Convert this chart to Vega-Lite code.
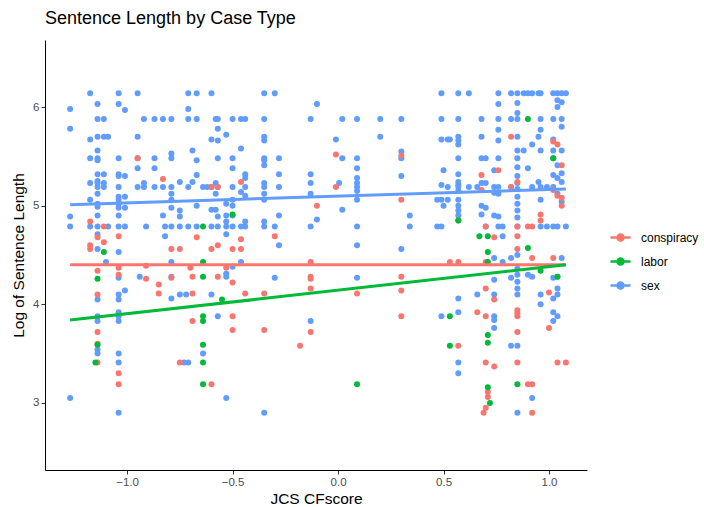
{
"$schema": "https://vega.github.io/schema/vega-lite/v6.json",
"width": 542, "height": 430,
"autosize": {"type": "none"},
"padding": {"left": 45, "top": 40, "right": 117, "bottom": 37},
"background": "white",
"title": {"text": "Sentence Length by Case Type", "anchor": "start", "frame": "group", "font": "Liberation Sans", "fontSize": 18, "fontWeight": "normal", "color": "#000000", "offset": 12},
"config": {"view": {"stroke": null}, "axis": {"grid": false, "domainColor": "#000000", "tickColor": "#333333", "tickSize": 4, "labelFont": "Liberation Sans", "labelFontSize": 11.5, "labelColor": "#4D4D4D", "titleFont": "Liberation Sans", "titleFontSize": 15.5, "titleFontWeight": "normal", "titleColor": "#000000"}},
"datasets": {
"fits": [
{"x": -1.27, "y": 4.40, "type": "conspiracy"}, {"x": 1.08, "y": 4.40, "type": "conspiracy"},
{"x": -1.27, "y": 3.84, "type": "labor"}, {"x": 1.08, "y": 4.40, "type": "labor"},
{"x": -1.27, "y": 5.01, "type": "sex"}, {"x": 1.08, "y": 5.17, "type": "sex"}
],
"pts": [
{"x":-1.27,"y":5.98,"type":"sex"},{"x":-1.27,"y":5.78,"type":"sex"},{"x":-1.27,"y":4.89,"type":"sex"},{"x":-1.27,"y":4.79,"type":"sex"},{"x":-1.27,"y":3.05,"type":"sex"},
{"x":-1.175,"y":6.14,"type":"sex"},{"x":-1.175,"y":5.67,"type":"sex"},{"x":-1.175,"y":5.48,"type":"sex"},{"x":-1.175,"y":5.23,"type":"sex"},{"x":-1.175,"y":5.06,"type":"sex"},{"x":-1.175,"y":4.79,"type":"sex"},
{"x":-1.14,"y":6.03,"type":"sex"},{"x":-1.14,"y":5.88,"type":"sex"},{"x":-1.14,"y":5.70,"type":"sex"},{"x":-1.14,"y":5.56,"type":"sex"},{"x":-1.14,"y":5.48,"type":"sex"},{"x":-1.14,"y":5.46,"type":"sex"},{"x":-1.14,"y":5.32,"type":"sex"},{"x":-1.14,"y":5.25,"type":"sex"},{"x":-1.14,"y":5.23,"type":"sex"},{"x":-1.14,"y":5.19,"type":"sex"},{"x":-1.14,"y":5.12,"type":"sex"},{"x":-1.14,"y":5.02,"type":"sex"},{"x":-1.14,"y":4.99,"type":"sex"},{"x":-1.14,"y":4.90,"type":"sex"},{"x":-1.14,"y":4.79,"type":"sex"},{"x":-1.14,"y":4.71,"type":"sex"},{"x":-1.14,"y":4.56,"type":"sex"},{"x":-1.14,"y":4.05,"type":"sex"},{"x":-1.14,"y":3.88,"type":"sex"},{"x":-1.14,"y":3.83,"type":"sex"},{"x":-1.14,"y":3.54,"type":"sex"},{"x":-1.14,"y":3.50,"type":"sex"},
{"x":-1.11,"y":5.88,"type":"sex"},{"x":-1.11,"y":5.70,"type":"sex"},{"x":-1.11,"y":5.32,"type":"sex"},{"x":-1.11,"y":5.23,"type":"sex"},{"x":-1.11,"y":5.19,"type":"sex"},{"x":-1.10,"y":4.43,"type":"sex"},
{"x":-1.09,"y":5.70,"type":"sex"},{"x":-1.09,"y":4.79,"type":"sex"},
{"x":-1.04,"y":6.14,"type":"sex"},{"x":-1.04,"y":6.03,"type":"sex"},{"x":-1.04,"y":5.48,"type":"sex"},{"x":-1.04,"y":5.32,"type":"sex"},{"x":-1.04,"y":5.30,"type":"sex"},{"x":-1.04,"y":5.19,"type":"sex"},{"x":-1.04,"y":5.09,"type":"sex"},{"x":-1.04,"y":5.06,"type":"sex"},{"x":-1.04,"y":5.02,"type":"sex"},{"x":-1.04,"y":4.98,"type":"sex"},{"x":-1.04,"y":4.90,"type":"sex"},{"x":-1.04,"y":4.79,"type":"sex"},{"x":-1.04,"y":4.53,"type":"sex"},{"x":-1.04,"y":4.27,"type":"sex"},{"x":-1.04,"y":4.10,"type":"sex"},{"x":-1.04,"y":4.05,"type":"sex"},{"x":-1.04,"y":3.92,"type":"sex"},{"x":-1.04,"y":3.88,"type":"sex"},{"x":-1.04,"y":3.83,"type":"sex"},{"x":-1.04,"y":3.50,"type":"sex"},{"x":-1.04,"y":3.41,"type":"sex"},{"x":-1.04,"y":2.90,"type":"sex"},
{"x":-1.01,"y":5.97,"type":"sex"},{"x":-1.01,"y":5.30,"type":"sex"},{"x":-1.01,"y":5.09,"type":"sex"},{"x":-1.01,"y":4.98,"type":"sex"},{"x":-1.01,"y":4.79,"type":"sex"},{"x":-1.01,"y":4.14,"type":"sex"},
{"x":-0.95,"y":6.14,"type":"sex"},{"x":-0.95,"y":5.70,"type":"sex"},{"x":-0.95,"y":5.48,"type":"sex"},{"x":-0.95,"y":5.38,"type":"sex"},{"x":-0.95,"y":5.19,"type":"sex"},{"x":-0.94,"y":4.28,"type":"sex"},
{"x":-0.92,"y":5.88,"type":"sex"},{"x":-0.92,"y":5.23,"type":"sex"},{"x":-0.92,"y":5.19,"type":"sex"},{"x":-0.91,"y":4.79,"type":"sex"},
{"x":-0.87,"y":5.88,"type":"sex"},{"x":-0.87,"y":5.48,"type":"sex"},{"x":-0.87,"y":5.38,"type":"sex"},{"x":-0.87,"y":5.19,"type":"sex"},
{"x":-0.83,"y":5.88,"type":"sex"},{"x":-0.83,"y":5.19,"type":"sex"},{"x":-0.83,"y":4.90,"type":"sex"},{"x":-0.82,"y":4.79,"type":"sex"},{"x":-0.82,"y":4.69,"type":"sex"},
{"x":-0.79,"y":5.88,"type":"sex"},{"x":-0.79,"y":5.53,"type":"sex"},{"x":-0.79,"y":5.48,"type":"sex"},{"x":-0.79,"y":5.19,"type":"sex"},{"x":-0.79,"y":5.12,"type":"sex"},{"x":-0.79,"y":5.06,"type":"sex"},{"x":-0.79,"y":4.98,"type":"sex"},{"x":-0.79,"y":4.79,"type":"sex"},{"x":-0.79,"y":4.43,"type":"sex"},{"x":-0.79,"y":4.28,"type":"sex"},{"x":-0.79,"y":4.06,"type":"sex"},
{"x":-0.75,"y":5.24,"type":"sex"},{"x":-0.75,"y":4.95,"type":"sex"},{"x":-0.75,"y":4.89,"type":"sex"},{"x":-0.75,"y":4.79,"type":"sex"},{"x":-0.75,"y":4.10,"type":"sex"},{"x":-0.73,"y":3.41,"type":"sex"},
{"x":-0.71,"y":6.14,"type":"sex"},{"x":-0.71,"y":5.98,"type":"sex"},{"x":-0.71,"y":5.88,"type":"sex"},{"x":-0.71,"y":5.19,"type":"sex"},{"x":-0.71,"y":4.79,"type":"sex"},{"x":-0.71,"y":3.41,"type":"sex"},{"x":-0.72,"y":4.10,"type":"sex"},
{"x":-0.69,"y":5.56,"type":"sex"},{"x":-0.69,"y":5.24,"type":"sex"},
{"x":-0.67,"y":6.14,"type":"sex"},{"x":-0.67,"y":5.88,"type":"sex"},{"x":-0.67,"y":5.46,"type":"sex"},{"x":-0.67,"y":5.31,"type":"sex"},{"x":-0.67,"y":5.00,"type":"sex"},{"x":-0.67,"y":4.79,"type":"sex"},
{"x":-0.64,"y":5.19,"type":"sex"},{"x":-0.64,"y":3.50,"type":"sex"},{"x":-0.62,"y":5.19,"type":"sex"},
{"x":-0.60,"y":6.14,"type":"sex"},{"x":-0.60,"y":5.67,"type":"sex"},{"x":-0.60,"y":5.19,"type":"sex"},{"x":-0.60,"y":4.96,"type":"sex"},{"x":-0.60,"y":4.79,"type":"sex"},{"x":-0.60,"y":4.10,"type":"sex"},
{"x":-0.58,"y":5.88,"type":"sex"},{"x":-0.58,"y":5.23,"type":"sex"},{"x":-0.58,"y":5.12,"type":"sex"},{"x":-0.58,"y":4.96,"type":"sex"},
{"x":-0.57,"y":5.88,"type":"sex"},{"x":-0.57,"y":5.78,"type":"sex"},{"x":-0.57,"y":5.66,"type":"sex"},{"x":-0.57,"y":5.48,"type":"sex"},{"x":-0.57,"y":5.19,"type":"sex"},{"x":-0.57,"y":4.89,"type":"sex"},{"x":-0.57,"y":4.79,"type":"sex"},{"x":-0.57,"y":3.88,"type":"sex"},
{"x":-0.53,"y":5.72,"type":"sex"},{"x":-0.53,"y":5.02,"type":"sex"},{"x":-0.53,"y":4.90,"type":"sex"},{"x":-0.53,"y":4.84,"type":"sex"},{"x":-0.53,"y":4.79,"type":"sex"},{"x":-0.53,"y":4.71,"type":"sex"},{"x":-0.53,"y":4.31,"type":"sex"},{"x":-0.53,"y":4.28,"type":"sex"},{"x":-0.53,"y":3.05,"type":"sex"},
{"x":-0.50,"y":5.88,"type":"sex"},{"x":-0.50,"y":5.48,"type":"sex"},{"x":-0.50,"y":5.38,"type":"sex"},{"x":-0.50,"y":5.19,"type":"sex"},{"x":-0.50,"y":5.06,"type":"sex"},{"x":-0.50,"y":5.00,"type":"sex"},{"x":-0.50,"y":4.90,"type":"sex"},{"x":-0.50,"y":4.79,"type":"sex"},{"x":-0.50,"y":4.38,"type":"sex"},
{"x":-0.46,"y":5.88,"type":"sex"},{"x":-0.46,"y":5.58,"type":"sex"},{"x":-0.46,"y":5.14,"type":"sex"},{"x":-0.46,"y":4.79,"type":"sex"},{"x":-0.46,"y":4.43,"type":"sex"},
{"x":-0.44,"y":5.88,"type":"sex"},{"x":-0.44,"y":5.32,"type":"sex"},{"x":-0.44,"y":5.28,"type":"sex"},{"x":-0.44,"y":5.19,"type":"sex"},{"x":-0.44,"y":5.10,"type":"sex"},{"x":-0.44,"y":4.84,"type":"sex"},{"x":-0.44,"y":4.79,"type":"sex"},
{"x":-0.35,"y":6.14,"type":"sex"},{"x":-0.35,"y":5.88,"type":"sex"},{"x":-0.35,"y":5.70,"type":"sex"},{"x":-0.35,"y":5.66,"type":"sex"},{"x":-0.35,"y":5.48,"type":"sex"},{"x":-0.35,"y":5.46,"type":"sex"},{"x":-0.35,"y":5.41,"type":"sex"},{"x":-0.35,"y":5.23,"type":"sex"},{"x":-0.35,"y":5.19,"type":"sex"},{"x":-0.35,"y":5.12,"type":"sex"},{"x":-0.35,"y":5.06,"type":"sex"},{"x":-0.35,"y":4.84,"type":"sex"},{"x":-0.35,"y":4.79,"type":"sex"},{"x":-0.35,"y":2.90,"type":"sex"},
{"x":-0.30,"y":6.14,"type":"sex"},{"x":-0.30,"y":4.79,"type":"sex"},{"x":-0.30,"y":4.27,"type":"sex"},
{"x":-0.28,"y":5.48,"type":"sex"},{"x":-0.28,"y":5.32,"type":"sex"},{"x":-0.28,"y":5.19,"type":"sex"},{"x":-0.28,"y":4.90,"type":"sex"},{"x":-0.28,"y":4.60,"type":"sex"},
{"x":-0.13,"y":5.88,"type":"sex"},{"x":-0.13,"y":5.32,"type":"sex"},{"x":-0.13,"y":5.23,"type":"sex"},{"x":-0.13,"y":5.12,"type":"sex"},{"x":-0.13,"y":4.79,"type":"sex"},{"x":-0.13,"y":3.83,"type":"sex"},
{"x":-0.10,"y":6.03,"type":"sex"},{"x":-0.10,"y":4.86,"type":"sex"},
{"x":-0.01,"y":5.67,"type":"sex"},{"x":0.005,"y":5.23,"type":"sex"},
{"x":0.02,"y":5.88,"type":"sex"},{"x":0.02,"y":5.48,"type":"sex"},{"x":0.02,"y":4.96,"type":"sex"},
{"x":0.09,"y":5.88,"type":"sex"},{"x":0.09,"y":5.48,"type":"sex"},{"x":0.09,"y":5.38,"type":"sex"},{"x":0.09,"y":5.28,"type":"sex"},{"x":0.09,"y":5.23,"type":"sex"},{"x":0.09,"y":5.19,"type":"sex"},{"x":0.09,"y":5.15,"type":"sex"},{"x":0.09,"y":5.06,"type":"sex"},{"x":0.09,"y":4.79,"type":"sex"},{"x":0.09,"y":4.60,"type":"sex"},{"x":0.09,"y":4.27,"type":"sex"},
{"x":0.20,"y":5.88,"type":"sex"},{"x":0.20,"y":5.70,"type":"sex"},
{"x":0.30,"y":5.88,"type":"sex"},{"x":0.30,"y":5.55,"type":"sex"},{"x":0.30,"y":5.48,"type":"sex"},{"x":0.30,"y":5.30,"type":"sex"},{"x":0.30,"y":4.56,"type":"sex"},
{"x":0.34,"y":4.90,"type":"sex"},{"x":0.34,"y":4.79,"type":"sex"},
{"x":0.47,"y":5.06,"type":"sex"},{"x":0.47,"y":4.79,"type":"sex"},
{"x":0.49,"y":6.14,"type":"sex"},{"x":0.49,"y":5.88,"type":"sex"},{"x":0.49,"y":5.67,"type":"sex"},{"x":0.49,"y":5.21,"type":"sex"},{"x":0.49,"y":5.06,"type":"sex"},{"x":0.49,"y":4.79,"type":"sex"},{"x":0.49,"y":3.88,"type":"sex"},
{"x":0.50,"y":5.36,"type":"sex"},{"x":0.50,"y":5.00,"type":"sex"},
{"x":0.52,"y":5.67,"type":"sex"},{"x":0.52,"y":5.19,"type":"sex"},{"x":0.52,"y":5.06,"type":"sex"},{"x":0.53,"y":5.67,"type":"sex"},
{"x":0.57,"y":6.14,"type":"sex"},{"x":0.57,"y":5.88,"type":"sex"},{"x":0.57,"y":5.70,"type":"sex"},{"x":0.57,"y":5.66,"type":"sex"},{"x":0.57,"y":5.62,"type":"sex"},{"x":0.57,"y":5.48,"type":"sex"},{"x":0.57,"y":5.32,"type":"sex"},{"x":0.57,"y":5.24,"type":"sex"},{"x":0.57,"y":5.21,"type":"sex"},{"x":0.57,"y":5.19,"type":"sex"},{"x":0.57,"y":5.15,"type":"sex"},{"x":0.57,"y":5.06,"type":"sex"},{"x":0.57,"y":5.00,"type":"sex"},{"x":0.57,"y":4.95,"type":"sex"},{"x":0.57,"y":4.90,"type":"sex"},{"x":0.57,"y":4.06,"type":"sex"},{"x":0.57,"y":3.92,"type":"sex"},{"x":0.57,"y":3.41,"type":"sex"},{"x":0.57,"y":3.30,"type":"sex"},
{"x":0.62,"y":6.14,"type":"sex"},{"x":0.62,"y":5.19,"type":"sex"},{"x":0.66,"y":5.19,"type":"sex"},{"x":0.66,"y":4.10,"type":"sex"},
{"x":0.68,"y":5.88,"type":"sex"},{"x":0.68,"y":5.70,"type":"sex"},{"x":0.68,"y":5.48,"type":"sex"},{"x":0.68,"y":5.23,"type":"sex"},{"x":0.68,"y":5.00,"type":"sex"},{"x":0.68,"y":4.91,"type":"sex"},
{"x":0.70,"y":5.48,"type":"sex"},{"x":0.70,"y":5.23,"type":"sex"},{"x":0.70,"y":4.98,"type":"sex"},{"x":0.70,"y":4.79,"type":"sex"},
{"x":0.74,"y":5.36,"type":"sex"},{"x":0.74,"y":5.19,"type":"sex"},{"x":0.74,"y":5.13,"type":"sex"},{"x":0.74,"y":4.90,"type":"sex"},{"x":0.74,"y":4.47,"type":"sex"},{"x":0.74,"y":4.25,"type":"sex"},{"x":0.74,"y":4.10,"type":"sex"},{"x":0.74,"y":3.88,"type":"sex"},{"x":0.74,"y":3.84,"type":"sex"},{"x":0.74,"y":3.76,"type":"sex"},
{"x":0.76,"y":6.14,"type":"sex"},{"x":0.76,"y":6.03,"type":"sex"},{"x":0.76,"y":5.88,"type":"sex"},{"x":0.76,"y":5.77,"type":"sex"},{"x":0.76,"y":5.66,"type":"sex"},{"x":0.76,"y":5.48,"type":"sex"},{"x":0.76,"y":5.19,"type":"sex"},{"x":0.76,"y":5.12,"type":"sex"},{"x":0.76,"y":4.89,"type":"sex"},{"x":0.76,"y":4.79,"type":"sex"},
{"x":0.78,"y":4.79,"type":"sex"},{"x":0.78,"y":4.69,"type":"sex"},{"x":0.78,"y":4.43,"type":"sex"},
{"x":0.82,"y":6.14,"type":"sex"},{"x":0.82,"y":5.88,"type":"sex"},{"x":0.82,"y":5.19,"type":"sex"},{"x":0.82,"y":4.47,"type":"sex"},{"x":0.82,"y":4.27,"type":"sex"},{"x":0.82,"y":3.58,"type":"sex"},
{"x":0.85,"y":6.14,"type":"sex"},{"x":0.85,"y":6.04,"type":"sex"},{"x":0.85,"y":5.94,"type":"sex"},{"x":0.85,"y":5.88,"type":"sex"},{"x":0.85,"y":5.70,"type":"sex"},{"x":0.85,"y":5.56,"type":"sex"},{"x":0.85,"y":5.48,"type":"sex"},{"x":0.85,"y":5.39,"type":"sex"},{"x":0.85,"y":5.30,"type":"sex"},{"x":0.85,"y":5.23,"type":"sex"},{"x":0.85,"y":5.17,"type":"sex"},{"x":0.85,"y":5.09,"type":"sex"},{"x":0.85,"y":5.02,"type":"sex"},{"x":0.85,"y":4.95,"type":"sex"},{"x":0.85,"y":4.88,"type":"sex"},{"x":0.85,"y":4.79,"type":"sex"},{"x":0.85,"y":4.50,"type":"sex"},{"x":0.85,"y":4.36,"type":"sex"},{"x":0.85,"y":4.30,"type":"sex"},{"x":0.85,"y":4.23,"type":"sex"},{"x":0.85,"y":4.16,"type":"sex"},{"x":0.85,"y":4.10,"type":"sex"},{"x":0.85,"y":3.58,"type":"sex"},{"x":0.85,"y":2.90,"type":"sex"},
{"x":0.88,"y":5.56,"type":"sex"},{"x":0.88,"y":6.14,"type":"sex"},
{"x":0.90,"y":6.14,"type":"sex"},{"x":0.90,"y":5.38,"type":"sex"},{"x":0.90,"y":4.30,"type":"sex"},
{"x":0.92,"y":6.14,"type":"sex"},{"x":0.92,"y":5.62,"type":"sex"},{"x":0.92,"y":5.19,"type":"sex"},{"x":0.92,"y":4.28,"type":"sex"},{"x":0.92,"y":3.05,"type":"sex"},
{"x":0.95,"y":6.14,"type":"sex"},{"x":0.95,"y":5.70,"type":"sex"},{"x":0.95,"y":5.24,"type":"sex"},
{"x":0.96,"y":6.14,"type":"sex"},{"x":0.96,"y":5.88,"type":"sex"},{"x":0.96,"y":5.77,"type":"sex"},{"x":0.96,"y":5.56,"type":"sex"},{"x":0.96,"y":5.19,"type":"sex"},{"x":0.96,"y":5.06,"type":"sex"},{"x":0.96,"y":4.79,"type":"sex"},{"x":0.96,"y":4.10,"type":"sex"},{"x":0.96,"y":4.00,"type":"sex"},
{"x":0.99,"y":5.19,"type":"sex"},{"x":0.99,"y":4.79,"type":"sex"},
{"x":1.02,"y":6.14,"type":"sex"},{"x":1.02,"y":5.88,"type":"sex"},{"x":1.02,"y":5.67,"type":"sex"},{"x":1.02,"y":5.56,"type":"sex"},{"x":1.02,"y":5.48,"type":"sex"},{"x":1.02,"y":5.31,"type":"sex"},{"x":1.02,"y":5.19,"type":"sex"},{"x":1.02,"y":4.79,"type":"sex"},{"x":1.02,"y":4.27,"type":"sex"},{"x":1.02,"y":4.06,"type":"sex"},{"x":1.02,"y":3.92,"type":"sex"},{"x":1.02,"y":3.83,"type":"sex"},
{"x":1.04,"y":6.14,"type":"sex"},{"x":1.04,"y":6.07,"type":"sex"},{"x":1.04,"y":6.00,"type":"sex"},{"x":1.04,"y":5.41,"type":"sex"},{"x":1.04,"y":5.28,"type":"sex"},{"x":1.04,"y":5.12,"type":"sex"},{"x":1.04,"y":4.79,"type":"sex"},{"x":1.04,"y":4.28,"type":"sex"},{"x":1.04,"y":4.16,"type":"sex"},{"x":1.04,"y":4.10,"type":"sex"},{"x":1.04,"y":3.88,"type":"sex"},
{"x":1.06,"y":6.14,"type":"sex"},{"x":1.06,"y":6.05,"type":"sex"},{"x":1.06,"y":5.88,"type":"sex"},{"x":1.06,"y":5.80,"type":"sex"},{"x":1.06,"y":5.56,"type":"sex"},{"x":1.06,"y":5.33,"type":"sex"},{"x":1.06,"y":5.24,"type":"sex"},{"x":1.06,"y":5.04,"type":"sex"},{"x":1.06,"y":4.47,"type":"sex"},
{"x":1.08,"y":6.14,"type":"sex"},{"x":1.08,"y":4.79,"type":"sex"},
{"x":-1.175,"y":4.84,"type":"conspiracy"},{"x":-1.175,"y":4.60,"type":"conspiracy"},{"x":-1.175,"y":4.56,"type":"conspiracy"},
{"x":-1.14,"y":4.68,"type":"conspiracy"},{"x":-1.14,"y":4.34,"type":"conspiracy"},{"x":-1.14,"y":4.10,"type":"conspiracy"},{"x":-1.14,"y":3.72,"type":"conspiracy"},{"x":-1.14,"y":3.60,"type":"conspiracy"},{"x":-1.14,"y":3.41,"type":"conspiracy"},
{"x":-1.11,"y":4.79,"type":"conspiracy"},{"x":-1.11,"y":4.63,"type":"conspiracy"},
{"x":-1.04,"y":4.69,"type":"conspiracy"},{"x":-1.04,"y":4.37,"type":"conspiracy"},{"x":-1.04,"y":4.30,"type":"conspiracy"},{"x":-1.04,"y":3.30,"type":"conspiracy"},{"x":-1.04,"y":3.19,"type":"conspiracy"},
{"x":-0.95,"y":5.48,"type":"conspiracy"},{"x":-0.91,"y":4.39,"type":"conspiracy"},{"x":-0.91,"y":4.26,"type":"conspiracy"},
{"x":-0.85,"y":4.20,"type":"conspiracy"},{"x":-0.85,"y":4.11,"type":"conspiracy"},{"x":-0.83,"y":5.27,"type":"conspiracy"},
{"x":-0.79,"y":4.56,"type":"conspiracy"},{"x":-0.79,"y":4.27,"type":"conspiracy"},{"x":-0.75,"y":4.56,"type":"conspiracy"},{"x":-0.75,"y":3.41,"type":"conspiracy"},
{"x":-0.70,"y":4.37,"type":"conspiracy"},{"x":-0.69,"y":4.28,"type":"conspiracy"},{"x":-0.69,"y":4.11,"type":"conspiracy"},{"x":-0.69,"y":3.83,"type":"conspiracy"},{"x":-0.67,"y":4.68,"type":"conspiracy"},
{"x":-0.60,"y":5.19,"type":"conspiracy"},{"x":-0.60,"y":4.56,"type":"conspiracy"},{"x":-0.60,"y":3.19,"type":"conspiracy"},
{"x":-0.57,"y":5.19,"type":"conspiracy"},{"x":-0.57,"y":4.60,"type":"conspiracy"},{"x":-0.57,"y":4.28,"type":"conspiracy"},{"x":-0.53,"y":4.37,"type":"conspiracy"},
{"x":-0.50,"y":4.56,"type":"conspiracy"},{"x":-0.50,"y":4.22,"type":"conspiracy"},{"x":-0.50,"y":3.88,"type":"conspiracy"},{"x":-0.50,"y":3.74,"type":"conspiracy"},
{"x":-0.46,"y":5.24,"type":"conspiracy"},{"x":-0.46,"y":4.66,"type":"conspiracy"},{"x":-0.46,"y":4.56,"type":"conspiracy"},{"x":-0.44,"y":4.11,"type":"conspiracy"},
{"x":-0.35,"y":4.11,"type":"conspiracy"},{"x":-0.35,"y":3.74,"type":"conspiracy"},{"x":-0.30,"y":4.69,"type":"conspiracy"},{"x":-0.18,"y":3.58,"type":"conspiracy"},
{"x":-0.13,"y":4.43,"type":"conspiracy"},{"x":-0.13,"y":4.28,"type":"conspiracy"},{"x":-0.13,"y":4.26,"type":"conspiracy"},{"x":-0.13,"y":4.16,"type":"conspiracy"},{"x":-0.13,"y":3.72,"type":"conspiracy"},
{"x":-0.10,"y":5.00,"type":"conspiracy"},{"x":-0.01,"y":5.52,"type":"conspiracy"},{"x":-0.01,"y":5.19,"type":"conspiracy"},{"x":0.09,"y":4.11,"type":"conspiracy"},
{"x":0.30,"y":5.51,"type":"conspiracy"},{"x":0.30,"y":5.06,"type":"conspiracy"},{"x":0.30,"y":4.28,"type":"conspiracy"},{"x":0.30,"y":4.14,"type":"conspiracy"},{"x":0.30,"y":3.88,"type":"conspiracy"},
{"x":0.53,"y":4.43,"type":"conspiracy"},{"x":0.57,"y":4.85,"type":"conspiracy"},{"x":0.57,"y":4.43,"type":"conspiracy"},{"x":0.57,"y":3.58,"type":"conspiracy"},{"x":0.66,"y":3.92,"type":"conspiracy"},
{"x":0.68,"y":5.31,"type":"conspiracy"},{"x":0.68,"y":5.16,"type":"conspiracy"},
{"x":0.70,"y":4.79,"type":"conspiracy"},{"x":0.70,"y":4.43,"type":"conspiracy"},{"x":0.70,"y":4.16,"type":"conspiracy"},{"x":0.70,"y":3.88,"type":"conspiracy"},{"x":0.70,"y":3.41,"type":"conspiracy"},{"x":0.71,"y":3.11,"type":"conspiracy"},{"x":0.71,"y":3.06,"type":"conspiracy"},{"x":0.70,"y":2.95,"type":"conspiracy"},{"x":0.69,"y":2.90,"type":"conspiracy"},
{"x":0.74,"y":4.68,"type":"conspiracy"},{"x":0.74,"y":4.05,"type":"conspiracy"},{"x":0.74,"y":3.37,"type":"conspiracy"},{"x":0.76,"y":5.36,"type":"conspiracy"},
{"x":0.82,"y":5.70,"type":"conspiracy"},{"x":0.82,"y":5.19,"type":"conspiracy"},
{"x":0.85,"y":5.24,"type":"conspiracy"},{"x":0.85,"y":4.79,"type":"conspiracy"},{"x":0.85,"y":4.69,"type":"conspiracy"},{"x":0.85,"y":4.56,"type":"conspiracy"},{"x":0.85,"y":3.94,"type":"conspiracy"},{"x":0.85,"y":3.91,"type":"conspiracy"},{"x":0.85,"y":3.88,"type":"conspiracy"},{"x":0.85,"y":3.72,"type":"conspiracy"},{"x":0.85,"y":3.41,"type":"conspiracy"},
{"x":0.90,"y":4.79,"type":"conspiracy"},{"x":0.90,"y":3.19,"type":"conspiracy"},{"x":0.92,"y":4.79,"type":"conspiracy"},{"x":0.92,"y":4.47,"type":"conspiracy"},{"x":0.92,"y":3.19,"type":"conspiracy"},{"x":0.92,"y":2.90,"type":"conspiracy"},
{"x":0.96,"y":4.91,"type":"conspiracy"},{"x":0.96,"y":4.85,"type":"conspiracy"},{"x":1.00,"y":4.12,"type":"conspiracy"},{"x":1.00,"y":3.76,"type":"conspiracy"},
{"x":1.02,"y":5.65,"type":"conspiracy"},{"x":1.02,"y":5.16,"type":"conspiracy"},{"x":1.02,"y":4.47,"type":"conspiracy"},
{"x":1.04,"y":5.62,"type":"conspiracy"},{"x":1.04,"y":5.10,"type":"conspiracy"},{"x":1.04,"y":3.41,"type":"conspiracy"},
{"x":1.06,"y":5.41,"type":"conspiracy"},{"x":1.06,"y":5.08,"type":"conspiracy"},{"x":1.06,"y":5.00,"type":"conspiracy"},{"x":1.08,"y":3.41,"type":"conspiracy"},
{"x":-1.14,"y":4.26,"type":"labor"},{"x":-1.14,"y":3.59,"type":"labor"},{"x":-1.11,"y":4.53,"type":"labor"},{"x":-1.15,"y":3.41,"type":"labor"},
{"x":-0.64,"y":4.79,"type":"labor"},{"x":-0.64,"y":4.43,"type":"labor"},{"x":-0.64,"y":4.28,"type":"labor"},{"x":-0.64,"y":3.88,"type":"labor"},{"x":-0.64,"y":3.83,"type":"labor"},{"x":-0.64,"y":3.59,"type":"labor"},{"x":-0.64,"y":3.41,"type":"labor"},{"x":-0.64,"y":3.19,"type":"labor"},
{"x":-0.55,"y":4.05,"type":"labor"},{"x":-0.50,"y":4.91,"type":"labor"},{"x":0.09,"y":3.19,"type":"labor"},
{"x":0.53,"y":3.88,"type":"labor"},{"x":0.53,"y":3.58,"type":"labor"},{"x":0.57,"y":4.85,"type":"labor"},{"x":0.67,"y":4.69,"type":"labor"},
{"x":0.71,"y":4.69,"type":"labor"},{"x":0.71,"y":4.53,"type":"labor"},{"x":0.71,"y":4.43,"type":"labor"},{"x":0.71,"y":3.69,"type":"labor"},{"x":0.71,"y":3.61,"type":"labor"},{"x":0.71,"y":3.16,"type":"labor"},{"x":0.72,"y":3.00,"type":"labor"},
{"x":0.85,"y":3.19,"type":"labor"},{"x":0.90,"y":5.88,"type":"labor"},{"x":0.90,"y":4.57,"type":"labor"},{"x":0.96,"y":4.34,"type":"labor"},{"x":1.02,"y":5.48,"type":"labor"},{"x":1.04,"y":4.28,"type":"labor"}
]
},
"encoding": {
"x": {"field": "x", "type": "quantitative", "title": "JCS CFscore", "scale": {"domain": [-1.389, 1.18], "nice": false, "zero": false}, "axis": {"values": [-1, -0.5, 0, 0.5, 1], "format": ".1f", "titlePadding": 4}},
"y": {"field": "y", "type": "quantitative", "title": "Log of Sentence Length", "scale": {"domain": [2.32, 6.68], "nice": false, "zero": false}, "axis": {"values": [3, 4, 5, 6], "format": "d", "titlePadding": 6}},
"color": {"field": "type", "type": "nominal", "title": null, "scale": {"domain": ["conspiracy", "labor", "sex"], "range": ["#F8766D", "#00BA38", "#619CFF"]},
 "legend": {"orient": "none", "legendX": 564, "legendY": 186, "labelFont": "Liberation Sans", "labelFontSize": 12, "labelColor": "#000000", "symbolType": "M -1 0 L 1 0 M 0.3 0 A 0.3 0.3 0 1 1 -0.3 0 A 0.3 0.3 0 1 1 0.3 0", "symbolSize": 400, "symbolStrokeWidth": 2.5, "rowPadding": 4, "labelOffset": 9,
  "encode": {"symbols": {"update": {"fill": {"scale": "color", "field": "value"}, "stroke": {"scale": "color", "field": "value"}, "opacity": {"value": 1}}}}}}
},
"layer": [
{"data": {"name": "pts"}, "mark": {"type": "circle", "size": 36, "opacity": 1}},
{"data": {"name": "fits"}, "mark": {"type": "line", "strokeWidth": 3}, "encoding": {"detail": {"field": "type"}}}
]
}
